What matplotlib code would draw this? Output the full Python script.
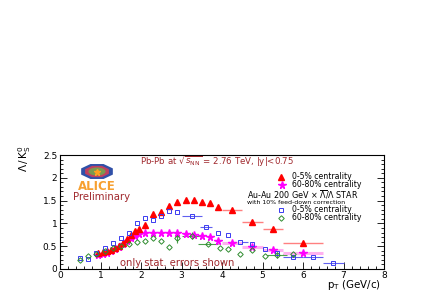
import numpy as np
import matplotlib
matplotlib.use("Agg")
import matplotlib.pyplot as plt
from matplotlib.patches import RegularPolygon, Circle

plt.rcParams['font.family'] = ['DejaVu Sans']
plt.rcParams['mathtext.fontset'] = 'dejavusans'

##############
## data

# ALICE Pb-Pb bins
alice_pt = [0.95, 1.05, 1.15, 1.25, 1.35, 1.45, 1.55, 1.65, 1.75, 1.85, 1.95,
            2.1, 2.3, 2.5, 2.7, 2.9, 3.1, 3.3, 3.5, 3.7, 3.9,
            4.25, 4.75, 5.25, 6.0]
alice_xerr = [0.0] * 21 + [0.25, 0.25, 0.25, 0.5]
central = [0.35, 0.37, 0.39, 0.42, 0.46, 0.51, 0.57, 0.65, 0.74, 0.83, 0.88,
           0.96, 1.20, 1.26, 1.39, 1.47, 1.52, 1.51, 1.48, 1.45, 1.37,
           1.29, 1.04, 0.87, 0.56]
peripheral = [0.31, 0.33, 0.36, 0.39, 0.43, 0.48, 0.54, 0.61, 0.67, 0.72, 0.76,
              0.78, 0.80, 0.80, 0.80, 0.79, 0.77, 0.75, 0.73, 0.70, 0.62,
              0.58, 0.48, 0.41, 0.36]

# STAR Au-Au 0-5%
star_c_pt = [0.5, 0.7, 0.9, 1.1, 1.3, 1.5, 1.7, 1.9, 2.1, 2.3, 2.5, 2.7, 2.9,
             3.25, 3.6, 3.9, 4.15, 4.45, 4.75, 5.05, 5.35, 5.75, 6.25, 6.75]
star_c_xerr = [0.0] * 13 + [0.25, 0.15, 0.0, 0.0, 0.2, 0.0, 0.0, 0.0, 0.25, 0.25, 0.25]
star_c = [0.25, 0.23, 0.36, 0.47, 0.58, 0.69, 0.79, 1.00, 1.11, 1.08, 1.17, 1.28, 1.26,
          1.17, 0.92, 0.79, 0.75, 0.60, 0.54, 0.44, 0.35, 0.27, 0.27, 0.13]

# STAR Au-Au 60-80%
star_p_pt = [0.5, 0.7, 0.9, 1.1, 1.3, 1.5, 1.7, 1.9, 2.1, 2.3, 2.5, 2.7, 2.9,
             3.25, 3.65, 3.95, 4.15, 4.45, 4.75, 5.05, 5.35, 5.75]
star_p_xerr = [0.0] * 13 + [0.25, 0.25, 0.0, 0.0, 0.0, 0.0, 0.0, 0.25, 0.25]
star_p_yerr = [0.0] * 12 + [0.1, 0.08, 0.0, 0.0, 0.0, 0.0, 0.0, 0.0, 0.06, 0.05]
star_p = [0.20, 0.28, 0.33, 0.40, 0.45, 0.50, 0.55, 0.60, 0.61, 0.69, 0.62, 0.49, 0.67,
          0.73, 0.54, 0.47, 0.43, 0.32, 0.41, 0.29, 0.31, 0.32]

dark_red = '#a0282d'
W, H = 432, 291


def fx(px):
    return px / W


def fy(py):
    return 1 - py / H


fig = plt.figure(figsize=(4.32, 2.91), dpi=100)
ax = fig.add_axes([fx(60), fy(269), 324 / W, 114 / H])

# STAR first (drawn underneath)
ax.errorbar(star_c_pt, star_c, xerr=star_c_xerr, fmt='s', ms=3.2, mfc='none',
            mec='#3b3bf0', ecolor='#6060f0', mew=0.7, elinewidth=0.8, capsize=0)
ax.errorbar(star_p_pt, star_p, xerr=star_p_xerr, yerr=star_p_yerr, fmt='D', ms=2.8,
            mfc='none', mec='#2e8b2e', ecolor='#4aa04a', mew=0.7, elinewidth=0.8, capsize=0)

# ALICE
ax.errorbar(alice_pt, peripheral, xerr=alice_xerr, fmt='none', ecolor='#ffb0f0',
            elinewidth=2.2, capsize=0)
ax.errorbar(alice_pt, central, xerr=alice_xerr, fmt='none', ecolor='#ff8080',
            elinewidth=1.0, capsize=0)
ax.plot(alice_pt, peripheral, '*', ms=5.5, color='#ff00ff', mec='#ff00ff')
ax.plot(alice_pt, central, '^', ms=4.5, color='#ff0000', mec='#ff0000')

ax.set_xlim(0, 8)
ax.set_ylim(0, 2.5)
ax.set_xticks(np.arange(0, 9, 1))
ax.set_xticks(np.arange(0, 8.01, 0.2), minor=True)
ax.set_yticks([0, 0.5, 1, 1.5, 2, 2.5])
ax.set_yticklabels(['0', '0.5', '1', '1.5', '2', '2.5'])
ax.set_yticks(np.arange(0, 2.51, 0.1), minor=True)
ax.tick_params(which='both', direction='in', top=False, right=True, labelsize=6.5, pad=2,
               width=0.6)
ax.tick_params(axis='x', pad=1.2)
ax.tick_params(which='major', length=5)
ax.tick_params(which='minor', length=2.5)
for s in ax.spines.values():
    s.set_linewidth(0.8)

# axis titles, placed by hand like ROOT does
fig.text(fx(381), fy(285.5), r'p$_\mathrm{T}$ (GeV/c)', fontsize=7.4, ha='right', va='center')
fig.text(fx(25), fy(145), r'$\Lambda\,/\,\mathrm{K}^0_\mathrm{S}$', fontsize=7.5,
         rotation=90, ha='center', va='top')

# annotations
fig.text(fx(140), fy(162), r'Pb-Pb at $\sqrt{s_{\mathrm{NN}}}$ = 2.76 TeV, |y|<0.75',
         color=dark_red, fontsize=6.2, va='center')
fig.text(fx(73), fy(197), 'Preliminary', color=dark_red, fontsize=7.3, va='center')
fig.text(fx(120), fy(263), 'only stat. errors shown', color=dark_red,
         fontsize=7.2, va='center')

# legend (hand placed like the original)
fig.lines.append(plt.Line2D([fx(281)], [fy(176.5)], marker='^', ms=4.5, color='#ff0000',
                            transform=fig.transFigure))
fig.text(fx(292), fy(176.5), '0-5% centrality', fontsize=5.6, va='center')
fig.lines.append(plt.Line2D([fx(282)], [fy(184.5)], marker='*', ms=5.5, color='#ff00ff',
                            transform=fig.transFigure))
fig.text(fx(292), fy(184.5), '60-80% centrality', fontsize=5.6, va='center')
fig.text(fx(247), fy(195), r'Au-Au 200 GeV $\times$ $\overline{\Lambda}/\Lambda$ STAR',
         fontsize=5.8, va='center')
fig.text(fx(247), fy(202), 'with 10% feed-down correction', fontsize=4.5, va='center')
fig.lines.append(plt.Line2D([fx(281)], [fy(210)], marker='s', ms=3.2, mfc='none',
                            mec='#3b3bf0', mew=0.7, transform=fig.transFigure))
fig.text(fx(292), fy(210), '0-5% centrality', fontsize=5.6, va='center')
fig.lines.append(plt.Line2D([fx(281)], [fy(217.5)], marker='D', ms=2.8, mfc='none',
                            mec='#2e8b2e', mew=0.7, transform=fig.transFigure))
fig.text(fx(292), fy(217.5), '60-80% centrality', fontsize=5.6, va='center')

# rough ALICE logo
logo = fig.add_axes([fx(79), fy(180), 36 / W, 17 / H])
logo.set_xlim(-1.05, 1.05)
logo.set_ylim(-1.05, 1.05)
logo.axis('off')
logo.add_patch(RegularPolygon((0, 0), 8, radius=1.0, orientation=np.pi / 8,
                              fc='#3050a8', ec='none'))
logo.add_patch(RegularPolygon((0, 0), 8, radius=0.75, orientation=np.pi / 8,
                              fc='#c04060', ec='none'))
logo.add_patch(Circle((0, 0), 0.5, fc='#7a9a50', ec='none'))
logo.plot([0], [0], '*', color='#ffa020', ms=5)
fig.text(fx(97), fy(186), 'ALICE', color='#f7a030', fontsize=8.5,
         fontweight='bold', ha='center', va='center')

fig.savefig('out.png', dpi=100)
